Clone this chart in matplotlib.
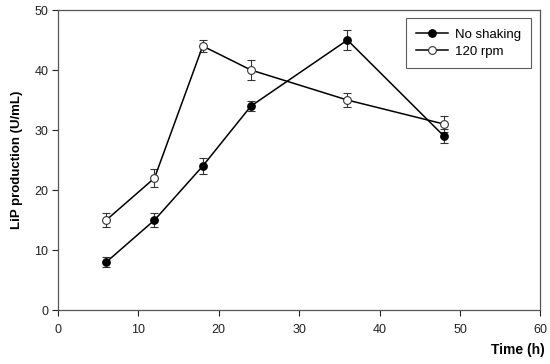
import matplotlib
matplotlib.use("Agg")
import matplotlib.pyplot as plt
from matplotlib.lines import Line2D

time_h = [6, 12, 18, 24, 36, 48]
no_shaking = [8, 15, 24, 34, 45, 29]
no_shaking_err = [0.8, 1.2, 1.4, 0.9, 1.6, 1.1]
rpm120 = [15, 22, 44, 40, 35, 31]
rpm120_err = [1.2, 1.5, 1.0, 1.6, 1.1, 1.4]
x_ticks = [0, 10, 20, 30, 40, 50, 60]
y_ticks = [0, 10, 20, 30, 40, 50]

plt.rcParams['font.family'] = ['Liberation Sans', 'DejaVu Sans']

fig = plt.figure(figsize=(5.5, 3.64), dpi=100)
ax = fig.add_axes([0.1055, 0.148, 0.877, 0.8245])

ax.errorbar(time_h, no_shaking, yerr=no_shaking_err, color='black', lw=1.1,
            marker='o', ms=5.3, mfc='black', mec='black', ecolor='#333333',
            elinewidth=0.8, capsize=2.8, capthick=0.8, zorder=3)
ax.errorbar(time_h, rpm120, yerr=rpm120_err, color='black', lw=1.1,
            marker='o', ms=5.6, mfc='white', mec='#333333', mew=0.8, ecolor='#333333',
            elinewidth=0.8, capsize=2.8, capthick=0.8, zorder=3)

ax.set_xlim(0, 60)
ax.set_ylim(0, 50)
ax.set_xticks(x_ticks)
ax.set_yticks(y_ticks)
ax.tick_params(direction='out', length=4, width=0.8, labelsize=9, colors='#222222', pad=3)
ax.tick_params(axis='x', pad=6)
for s in ax.spines.values():
    s.set_color('#555555')
    s.set_linewidth(0.9)

ax.set_ylabel('LiP production (U/mL)', fontsize=9.5, fontweight='bold', labelpad=8)
ax.set_xlabel('Time (h)', fontsize=10, fontweight='bold', labelpad=6)
ax.xaxis.set_label_coords(1.01, -0.11)
ax.xaxis.label.set_ha('right')

handles = [
    Line2D([], [], color='black', lw=1.1, marker='o', ms=5.3, mfc='black', mec='black'),
    Line2D([], [], color='black', lw=1.1, marker='o', ms=5.6, mfc='white', mec='#333333', mew=0.8),
]
leg = ax.legend(handles, ['No shaking', '120 rpm'], loc='upper right',
                bbox_to_anchor=(0.981, 0.973), borderaxespad=0, fontsize=9.5,
                frameon=True, fancybox=False, edgecolor='#333333',
                borderpad=0.8, handlelength=2.4, labelspacing=0.35, handletextpad=0.5)
leg.get_frame().set_linewidth(0.8)

fig.savefig('out.png', dpi=100)
